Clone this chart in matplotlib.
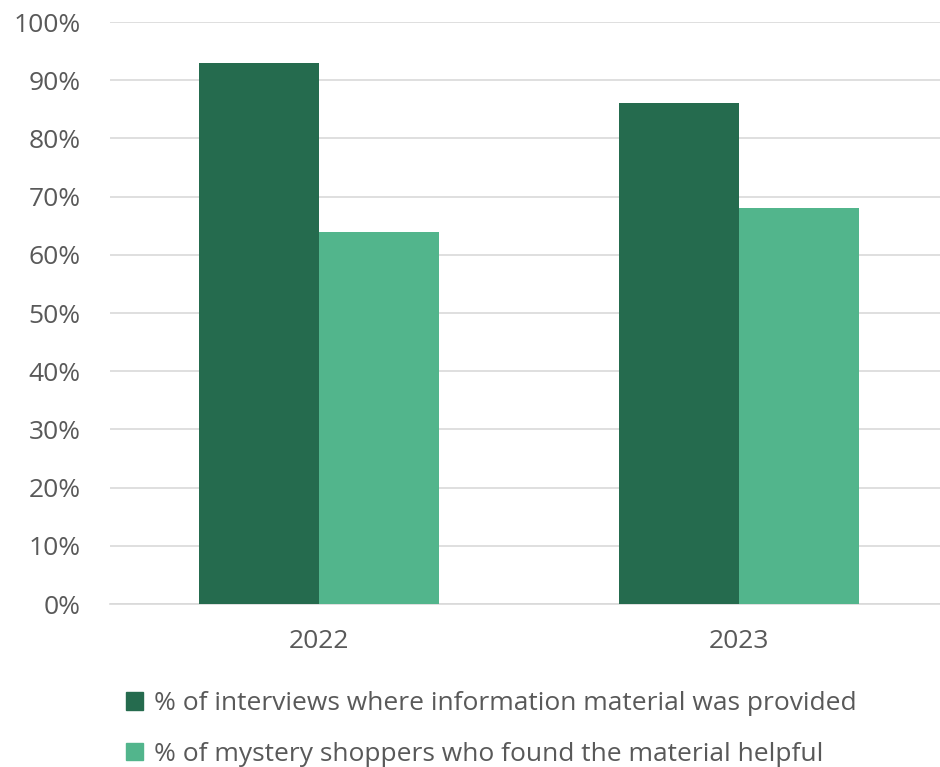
import numpy as np
import matplotlib.pyplot as plt
from matplotlib.patches import Patch

years = ["2022", "2023"]
provided = [93, 86]
helpful = [64, 68]
labels = ["% of interviews where information material was provided",
          "% of mystery shoppers who found the material helpful"]
colors = ["#256B4E", "#52B58C"]

plt.rcParams['font.family'] = ['Open Sans', 'DejaVu Sans']
txt = "#595959"

fig = plt.figure(figsize=(9.4, 7.67), dpi=100)
ax = fig.add_axes([0.117, 0.2125, 0.883, 0.7588])

x = np.arange(len(years))
w = 0.2857
ax.bar(x - w / 2, provided, w, color=colors[0], zorder=3)
ax.bar(x + w / 2, helpful, w, color=colors[1], zorder=3)

ax.set_xlim(-0.4976, 1.4786)
ax.set_ylim(0, 100)
ax.set_yticks(range(0, 101, 10))
ax.set_yticklabels([f"{v}%" for v in range(0, 101, 10)])
ax.set_xticks(x)
ax.set_xticklabels(years)
ax.yaxis.grid(True, color="#D9D9D9", linewidth=1.2, zorder=0)
for s in ["top", "right", "left"]:
    ax.spines[s].set_visible(False)
ax.spines["bottom"].set_color("#D9D9D9")
ax.spines["bottom"].set_linewidth(1.2)
ax.tick_params(axis="both", length=0, colors=txt, labelsize=19)
ax.tick_params(axis="y", pad=21)
ax.tick_params(axis="x", pad=18)

handles = [Patch(color=c) for c in colors]
fig.legend(handles, labels, loc="upper left", bbox_to_anchor=(0.134, 0.099),
           frameon=False, fontsize=19, labelcolor=txt, handlelength=0.65,
           handleheight=0.65, handletextpad=0.4, labelspacing=0.98,
           borderaxespad=0, borderpad=0)

fig.savefig("out.png", dpi=100)
